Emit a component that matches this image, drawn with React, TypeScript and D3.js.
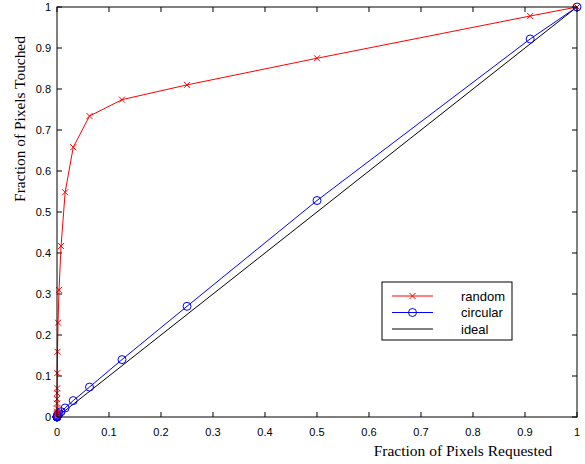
import React from "react";
import { scaleLinear, line, range } from "d3";

// x positions of the samples (fraction requested)
const fracRequested = [
  1, 0.91, 0.5, 0.25, 0.125, 0.0625, 0.03125, 0.015625, 0.0078125, 0.00390625,
  0.001953, 0.000977, 0.000488, 0.000244, 0.000122, 0.000061, 0.00003, 0.000015,
  0.0000076, 0.0000038, 0.0000019,
];
const randomTouched = [
  1, 0.978, 0.875, 0.81, 0.774, 0.734, 0.658, 0.548, 0.417, 0.31, 0.23, 0.159,
  0.107, 0.07, 0.058, 0.044, 0.033, 0.021, 0.013, 0.008, 0.004,
];
const circularTouched = [
  1, 0.922, 0.528, 0.27, 0.14, 0.073, 0.04, 0.022, 0.013, 0.008, 0.005, 0.003,
  0.002, 0.001, 0.001, 0.0005, 0.0003, 0.0002, 0.0001, 0.0001, 0.0001,
];
const idealX = [0, 1];
const xTicks = range(0, 11).map((i) => i / 10);
const yTicks = range(0, 11).map((i) => i / 10);
const legendItems = ["random", "circular", "ideal"];
const legendColors = ["#ff0000", "#0000ff", "#000000"];

const left = 57, right = 577, top = 7, bottom = 417;
const fmt = (v: number) => (v === 0 ? "0" : v === 1 ? "1" : v.toFixed(1));

export default function App() {
  const x = scaleLinear().domain([0, 1]).range([left, right]);
  const y = scaleLinear().domain([0, 1]).range([bottom, top]);
  const ln = line<[number, number]>().x((d) => x(d[0])).y((d) => y(d[1]));
  const red = fracRequested.map((v, i) => [v, randomTouched[i]] as [number, number]);
  const blue = fracRequested.map((v, i) => [v, circularTouched[i]] as [number, number]);
  const ideal = idealX.map((v) => [v, v] as [number, number]);
  const sans = "'Liberation Sans', Arial, sans-serif";
  const serif = "'Liberation Serif', 'Times New Roman', serif";
  const tl = 5;

  const xMark = (cx: number, cy: number, k: number) => (
    <path
      key={k}
      d={`M${cx - 3},${cy - 3}L${cx + 3},${cy + 3}M${cx - 3},${cy + 3}L${cx + 3},${cy - 3}`}
      stroke="#ff0000"
      strokeWidth={1}
    />
  );

  const lgX = 382, lgY = 282, lgW = 130, lgH = 58;

  return (
    <svg width={585} height={464} style={{ position: "absolute", left: 0, top: 0, background: "#fff" }}>
      <rect x={0} y={0} width={585} height={464} fill="#fff" />
      {/* ticks on all four sides, pointing in */}
      {xTicks.map((t) => (
        <g key={"x" + t}>
          <line x1={x(t)} x2={x(t)} y1={bottom} y2={bottom - tl} stroke="#000" />
          <line x1={x(t)} x2={x(t)} y1={top} y2={top + tl} stroke="#000" />
          <text x={x(t)} y={bottom + 19} textAnchor="middle" fontFamily={sans} fontSize={11}>
            {fmt(t)}
          </text>
        </g>
      ))}
      {yTicks.map((t) => (
        <g key={"y" + t}>
          <line x1={left} x2={left + tl} y1={y(t)} y2={y(t)} stroke="#000" />
          <line x1={right} x2={right - tl} y1={y(t)} y2={y(t)} stroke="#000" />
          <text x={left - 6} y={y(t) + 4} textAnchor="end" fontFamily={sans} fontSize={11}>
            {fmt(t)}
          </text>
        </g>
      ))}
      <path d={ln(ideal) || ""} fill="none" stroke="#000" strokeWidth={1} />
      <path d={ln(blue) || ""} fill="none" stroke="#0000ff" strokeWidth={1} />
      {blue.map((d, i) => (
        <circle key={i} cx={x(d[0])} cy={y(d[1])} r={4} fill="none" stroke="#0000ff" />
      ))}
      <path d={ln(red) || ""} fill="none" stroke="#ff0000" strokeWidth={1} />
      {red.map((d, i) => xMark(x(d[0]), y(d[1]), i))}
      <rect x={left} y={top} width={right - left} height={bottom - top} fill="none" stroke="#000" strokeWidth={1} />

      {/* legend */}
      <rect x={lgX} y={lgY} width={lgW} height={lgH} fill="#fff" stroke="#000" />
      {legendItems.map((name, i) => {
        const ly = lgY + 14 + i * 16.5;
        return (
          <g key={name}>
            <line x1={lgX + 10} x2={lgX + 51} y1={ly} y2={ly} stroke={legendColors[i]} />
            {i === 0 && xMark(lgX + 30.5, ly, 99)}
            {i === 1 && <circle cx={lgX + 30.5} cy={ly} r={4} fill="none" stroke="#0000ff" />}
            <text x={lgX + 79} y={ly + 4.5} fontFamily={sans} fontSize={13}>
              {name}
            </text>
          </g>
        );
      })}

      <text x={463} y={456} textAnchor="middle" fontFamily={serif} fontSize={15.5}>
        Fraction of Pixels Requested
      </text>
      <text
        transform={`translate(25,119) rotate(-90)`}
        textAnchor="middle"
        fontFamily={serif}
        fontSize={15.4}
      >
        Fraction of Pixels Touched
      </text>
    </svg>
  );
}
